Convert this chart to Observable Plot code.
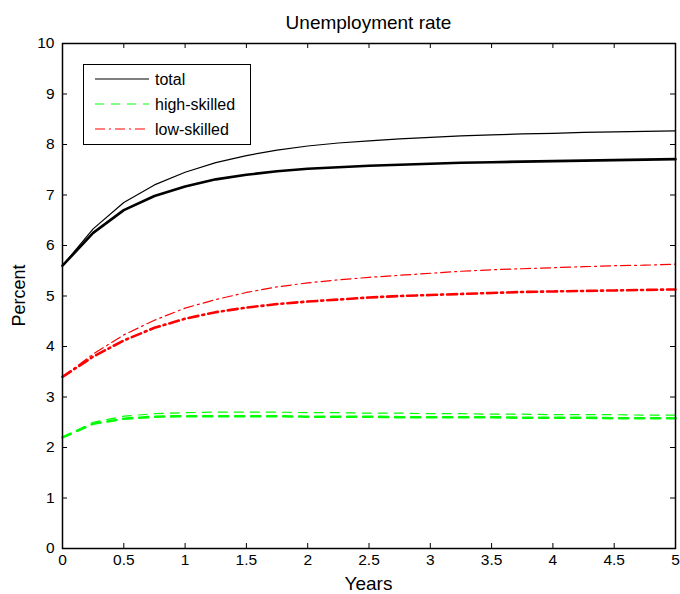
<!DOCTYPE html>
<html>
<head>
<meta charset="utf-8">
<script src="https://cdn.jsdelivr.net/npm/d3@7"></script>
<script src="https://cdn.jsdelivr.net/npm/@observablehq/plot@0.6"></script>
<style>
  html, body { margin: 0; padding: 0; background: #fff; }
  svg { font-family: "Liberation Sans", Arial, sans-serif; }
</style>
</head>
<body>
<div id="chart"></div>
<script>
const years = [0,0.25,0.5,0.75,1,1.25,1.5,1.75,2,2.25,2.5,2.75,3,3.25,3.5,3.75,4,4.25,4.5,4.75,5];
const totalA = [5.6,6.33,6.85,7.2,7.45,7.64,7.78,7.89,7.97,8.03,8.07,8.11,8.14,8.17,8.19,8.21,8.22,8.24,8.25,8.26,8.27];
const totalB = [5.6,6.25,6.7,6.98,7.17,7.31,7.4,7.47,7.52,7.55,7.58,7.6,7.62,7.64,7.65,7.66,7.67,7.68,7.69,7.70,7.71];
const highA = [2.2,2.5,2.62,2.67,2.69,2.70,2.70,2.70,2.69,2.69,2.68,2.68,2.67,2.67,2.66,2.66,2.65,2.65,2.65,2.64,2.64];
const highB = [2.2,2.47,2.57,2.61,2.62,2.62,2.62,2.62,2.61,2.61,2.61,2.6,2.6,2.6,2.6,2.59,2.59,2.59,2.58,2.58,2.58];
const lowA = [3.4,3.85,4.23,4.52,4.76,4.93,5.07,5.18,5.26,5.32,5.37,5.41,5.45,5.49,5.52,5.54,5.56,5.58,5.6,5.61,5.63];
const lowB = [3.4,3.8,4.12,4.37,4.55,4.68,4.77,4.84,4.89,4.93,4.97,5.0,5.02,5.04,5.06,5.08,5.09,5.1,5.11,5.12,5.13];
const legendLabels = ["total","high-skilled","low-skilled"];
const xTicks = [0,0.5,1,1.5,2,2.5,3,3.5,4,4.5,5];
const yTicks = [0,1,2,3,4,5,6,7,8,9,10];

const W = 680, H = 594, mL = 62, mR = 5, mT = 43, mB = 46;
const innerW = W - mL - mR, innerH = H - mT - mB;

const series = (vals) => years.map((x, i) => ({x, y: vals[i]}));

const styles = {
  total: {stroke: "#000", dash: null},
  high: {stroke: "#00ff00", dash: "9,7"},
  low: {stroke: "#ff0000", dash: "10,4,2,4"}
};

function lines(vals, st, thick) {
  return Plot.line(series(vals), {
    x: "x", y: "y", stroke: st.stroke,
    strokeWidth: thick ? 2.6 : 1.2,
    strokeDasharray: st.dash,
    curve: "linear"
  });
}

const fmt = d => String(d);

const plot = Plot.plot({
  width: W, height: H,
  marginLeft: mL, marginRight: mR, marginTop: mT, marginBottom: mB,
  style: {fontFamily: "Liberation Sans, Arial, sans-serif", background: "#fff"},
  x: {domain: [0, 5], label: null},
  y: {domain: [0, 10], label: null},
  marks: [
    Plot.axisX(xTicks, {tickSize: 0, tickPadding: 5, fontSize: 15.5, fill: "#000", tickFormat: fmt, label: null}),
    Plot.axisY(yTicks, {tickSize: 0, tickPadding: 8, fontSize: 15.5, fill: "#000", tickFormat: fmt, label: null}),
    Plot.tickX(xTicks, {x: d => d, insetTop: innerH - 5, stroke: "#000"}),
    Plot.tickX(xTicks, {x: d => d, insetBottom: innerH - 5, stroke: "#000"}),
    Plot.tickY(yTicks, {y: d => d, insetRight: innerW - 5, stroke: "#000"}),
    Plot.tickY(yTicks, {y: d => d, insetLeft: innerW - 5, stroke: "#000"}),
    lines(totalA, styles.total, false),
    lines(totalB, styles.total, true),
    lines(highA, styles.high, false),
    lines(highB, styles.high, true),
    lines(lowA, styles.low, false),
    lines(lowB, styles.low, true),
    Plot.frame({stroke: "#000", strokeWidth: 1.5})
  ]
});

const svg = d3.select(plot);
svg.append("text").attr("x", mL + innerW / 2).attr("y", 29).attr("text-anchor", "middle")
  .attr("font-size", 19).attr("fill", "#000").text("Unemployment rate");
svg.append("text").attr("x", mL + innerW / 2).attr("y", 590).attr("text-anchor", "middle")
  .attr("font-size", 19).attr("fill", "#000").text("Years");
svg.append("text").attr("transform", `translate(25,${mT + innerH / 2}) rotate(-90)`)
  .attr("text-anchor", "middle").attr("font-size", 18).attr("fill", "#000").text("Percent");

// legend
const lg = svg.append("g");
lg.append("rect").attr("x", 83.5).attr("y", 64.5).attr("width", 167).attr("height", 80)
  .attr("fill", "#fff").attr("stroke", "#000").attr("stroke-width", 1);
const keys = ["total","high","low"];
keys.forEach((k, i) => {
  const yy = 79 + i * 25;
  lg.append("line").attr("x1", 95).attr("x2", 149).attr("y1", yy).attr("y2", yy)
    .attr("stroke", styles[k].stroke).attr("stroke-width", 1.2)
    .attr("stroke-dasharray", styles[k].dash);
  lg.append("text").attr("x", 155).attr("y", yy + 5.5).attr("font-size", 16)
    .attr("text-anchor", "start").attr("fill", "#000")
    .text(legendLabels[i]);
});

document.getElementById("chart").appendChild(plot);
</script>
</body>
</html>
